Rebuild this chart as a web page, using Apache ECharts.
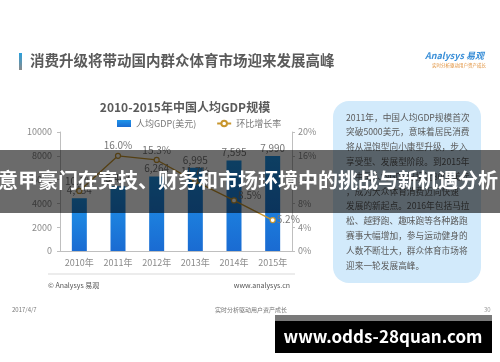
<!DOCTYPE html>
<html>
<head>
<meta charset="utf-8">
<script src="https://cdn.jsdelivr.net/npm/echarts@6/dist/echarts.min.js"></script>
<style>
html,body{margin:0;padding:0;background:#fff;}
#c{width:500px;height:362px;}
</style>
</head>
<body>
<div id="c"></div>
<script>
const categories = ['2010年','2011年','2012年','2013年','2014年','2015年'];
const gdpPerCapita = [4434, 5447, 6264, 6995, 7595, 7990];
const growthRate = [10.1, 16.0, 15.3, 11.7, 8.5, 5.2];
const leftTicks = [0, 2000, 4000, 6000, 8000, 10000];
const rightTicks = [0, 4, 8, 12, 16, 20];
const panelLines = [
  '2011年，中国人均GDP规模首次',
  '突破5000美元，意味着居民消费',
  '将从温饱型向小康型升级，步入',
  '享受型、发展型阶段。到2015年',
  '，中国人均GDP已接近8000美元',
  '，成为大众体育消费迈向快速',
  '发展的新起点。2016年包括马拉',
  '松、越野跑、趣味跑等各种路跑',
  '赛事大幅增加，参与运动健身的',
  '人数不断壮大，群众体育市场将',
  '迎来一轮发展高峰。'
];

const F = 'Noto Sans CJK SC, Noto Sans, sans-serif';
const chart = echarts.init(document.getElementById('c'), null, {renderer: 'canvas'});

const panelText = panelLines.map((t, i) => ({
  type: 'text', x: 346, y: 113 + i * 14.8,
  style: {text: t, font: '8.7px ' + F, fill: '#5a5a5a'}
}));

const growthData = growthRate.map((v, i) => {
  if (i === 4) return {value: v, label: {position: 'right', offset: [-1, -5]}};
  if (i === 5) return {value: v, label: {position: 'right', offset: [-1, -1]}};
  return v;
});

chart.setOption({
  backgroundColor: '#ffffff',
  textStyle: {fontFamily: F},
  title: {
    text: '2010-2015年中国人均GDP规模',
    left: 180, top: 96, textAlign: 'center',
    textStyle: {fontSize: 12, fontWeight: 'bold', color: '#5a5a5a', fontFamily: F}
  },
  legend: {
    top: 114, left: 112, itemWidth: 14, itemHeight: 7, itemGap: 20,
    textStyle: {fontSize: 9, color: '#777', fontFamily: F},
    data: [
      {name: '人均GDP(美元)', icon: 'rect'},
      {name: '环比增长率'}
    ]
  },
  grid: {left: 60, right: 208, top: 132, bottom: 111},
  xAxis: {
    type: 'category', data: categories,
    axisLine: {lineStyle: {color: '#bfbfbf'}},
    axisTick: {show: false},
    axisLabel: {color: '#8a8a8a', fontSize: 9, margin: 7, interval: 0, fontFamily: F}
  },
  yAxis: [
    {
      type: 'value', min: leftTicks[0], max: leftTicks[leftTicks.length - 1], interval: 2000,
      axisLine: {show: true, lineStyle: {color: '#bfbfbf'}},
      axisTick: {show: true, length: 3, lineStyle: {color: '#bfbfbf'}},
      splitLine: {show: false},
      axisLabel: {color: '#8a8a8a', fontSize: 9, margin: 8, fontFamily: F, formatter: v => String(v)}
    },
    {
      type: 'value', min: rightTicks[0], max: rightTicks[rightTicks.length - 1], interval: 4,
      axisLine: {show: true, lineStyle: {color: '#bfbfbf'}},
      axisTick: {show: true, length: 3, lineStyle: {color: '#bfbfbf'}},
      splitLine: {show: false},
      axisLabel: {color: '#8a8a8a', fontSize: 9, margin: 6, formatter: '{value}%', fontFamily: F}
    }
  ],
  series: [
    {
      name: '人均GDP(美元)', type: 'bar', data: gdpPerCapita, barWidth: 15,
      itemStyle: {color: new echarts.graphic.LinearGradient(0, 0, 0, 1, [
        {offset: 0, color: '#1f95ea'}, {offset: 1, color: '#1a6bd2'}])},
      label: {show: true, position: 'top', distance: 3, color: '#777', fontSize: 10, fontFamily: F,
        formatter: p => p.value.toLocaleString('en-US')}
    },
    {
      name: '环比增长率', type: 'line', yAxisIndex: 1, data: growthData,
      symbol: 'circle', symbolSize: 5,
      lineStyle: {color: '#c8962e', width: 1.3},
      itemStyle: {color: '#fff', borderColor: '#c8962e', borderWidth: 1.2},
      label: {
        show: true, position: 'top', distance: 2, color: '#777', fontSize: 10, fontFamily: F,
        formatter: p => Number(p.value).toFixed(1) + '%'
      },
      z: 5
    }
  ],
  graphic: [
    {type: 'rect', x: 19, y: 53, shape: {width: 3, height: 17},
      style: {fill: new echarts.graphic.LinearGradient(0, 0, 0, 1, [{offset: 0, color: '#2aa0dc'}, {offset: 1, color: '#8a8a8a'}])}},
    {type: 'text', x: 30, y: 53,
      style: {text: '消费升级将带动国内群众体育市场迎来发展高峰', font: 'bold 14.5px ' + F, fill: '#5a5a5a'}},
    {type: 'text', x: 425, y: 51,
      style: {text: 'Analysys 易观', font: 'italic bold 9px ' + F, fill: '#3a8fd8'}},
    {type: 'text', x: 432, y: 63,
      style: {text: '实时分析驱动用户资产成长', font: '4.5px ' + F, fill: '#e0903a'}},
    {type: 'line', shape: {x1: 48, y1: 274, x2: 295, y2: 274}, style: {stroke: '#d9d9d9', lineWidth: 1}},
    {type: 'text', x: 48, y: 282, style: {text: '© Analysys 易观', font: '7px ' + F, fill: '#555'}},
    {type: 'text', x: 290, y: 282, style: {text: 'www.analysys.cn', font: '7px ' + F, fill: '#555', align: 'right'}},
    {type: 'text', x: 12, y: 307, style: {text: '2017/4/7', font: '6px ' + F, fill: '#777'}},
    {type: 'text', x: 215, y: 307, style: {text: '实时分析驱动用户资产成长', font: '6px ' + F, fill: '#777'}},
    {type: 'text', x: 484, y: 307, style: {text: '30', font: '6px ' + F, fill: '#999'}},
    {type: 'rect', x: 333, y: 101, shape: {width: 148, height: 182, r: 16}, style: {fill: '#d2eafb'}},
    ...panelText,
    {type: 'rect', x: 0, y: 150, z: 100, shape: {width: 500, height: 63}, style: {fill: 'rgba(0,0,0,0.58)'}},
    {type: 'text', x: -2, y: 170, z: 101,
      style: {text: '意甲豪门在竞技、财务和市场环境中的挑战与新机遇分析', font: 'bold 20px ' + F, fill: '#ffffff'}},
    {type: 'rect', x: 275, y: 315, z: 100, shape: {width: 217, height: 6}, style: {fill: '#7a7a7a'}},
    {type: 'rect', x: 275, y: 321, z: 100, shape: {width: 217, height: 32}, style: {fill: '#000'}},
    {type: 'text', x: 383, y: 337, z: 101,
      style: {text: 'www.odds-28quan.com', font: 'bold 17px ' + F, fill: '#ffffff', align: 'center', verticalAlign: 'middle'}}
  ]
});
</script>
</body>
</html>
